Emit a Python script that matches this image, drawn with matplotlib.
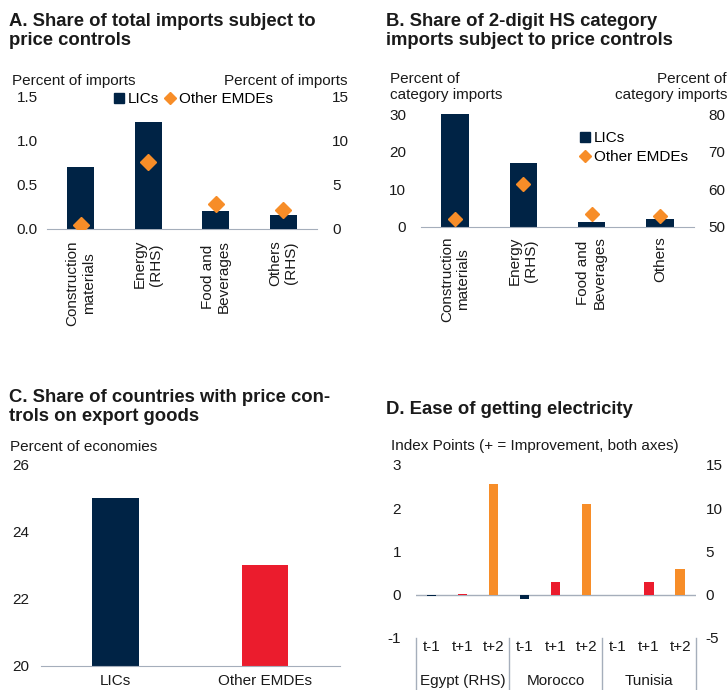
import matplotlib
matplotlib.use("Agg")
import matplotlib.pyplot as plt
from matplotlib.lines import Line2D

plt.rcParams['font.family'] = ['Liberation Sans', 'DejaVu Sans']
plt.rcParams['font.size'] = 11
plt.rcParams['axes.unicode_minus'] = False

NAVY = '#002345'
RED = '#EB1C2D'
ORANGE = '#F78D28'
LINE = '#A5AEBB'
TXT = '#1a1a1a'

# Panel A: share of total imports subject to price controls
a_categories = ['Construction\nmaterials', 'Energy\n(RHS)', 'Food and\nBeverages', 'Others\n(RHS)']
a_lics = [0.70, 12.2, 0.20, 1.6]
a_other = [0.04, 7.6, 0.28, 2.2]
a_on_rhs = [False, True, False, True]

# Panel B: share of 2-digit HS category imports subject to price controls
b_categories = ['Construction\nmaterials', 'Energy\n(RHS)', 'Food and\nBeverages', 'Others']
b_lics = [30.0, 17.0, 1.2, 2.0]
b_other = [52.0, 61.4, 53.4, 52.9]   # right axis

# Panel C: share of countries with price controls on export goods
c_groups = ['LICs', 'Other EMDEs']
c_values = [25.0, 23.0]

# Panel D: ease of getting electricity
d_countries = ['Egypt (RHS)', 'Morocco', 'Tunisia']
d_periods = ['t-1', 't+1', 't+2']
d_egypt = [-0.2, 0.1, 12.8]   # right axis
d_morocco = [-0.11, 0.29, 2.09]
d_tunisia = [0.0, 0.29, 0.6]

W, H = 728, 690
fig = plt.figure(figsize=(W / 100, H / 100), dpi=100)


def box(x0, x1, ytop, ybot):
    return [x0 / W, 1 - ybot / H, (x1 - x0) / W, (ybot - ytop) / H]


def ftext(x, y, s, **kw):
    kw.setdefault('color', TXT)
    kw.setdefault('va', 'center')
    return fig.text(x / W, 1 - y / H, s, **kw)


def clean(ax):
    for sp in ax.spines.values():
        sp.set_visible(False)
    ax.patch.set_visible(False)
    ax.tick_params(length=0, colors=TXT, labelsize=11)


# ---------- Panel A ----------
ax = fig.add_axes(box(47, 317, 97, 229))
ax2 = ax.twinx()
for a in (ax, ax2):
    clean(a)
ax.spines['bottom'].set_visible(True)
ax.spines['bottom'].set_color(LINE)
x = list(range(len(a_categories)))
for i in x:
    tgt = ax2 if a_on_rhs[i] else ax
    tgt.bar(i, a_lics[i], width=0.4, color=NAVY, zorder=2)
    tgt.plot(i, a_other[i], marker='D', ms=8.5, color=ORANGE, ls='none', zorder=3)
ax.set_xlim(-0.5, 3.5)
ax.set_ylim(0, 1.5)
ax2.set_ylim(0, 15)
ax.set_yticks([0, 0.5, 1.0, 1.5])
ax.set_yticklabels(['0.0', '0.5', '1.0', '1.5'])
ax2.set_yticks([0, 5, 10, 15])
ax.set_xticks(x)
ax.set_xticklabels(a_categories, rotation=90, multialignment='center')
ax.tick_params(axis='x', pad=8)
ax.tick_params(axis='y', pad=6.5)
ax2.tick_params(axis='y', pad=11)
ftext(9, 31, 'A. Share of total imports subject to\nprice controls', fontsize=13.3, fontweight='bold')
ftext(12, 81, 'Percent of imports')
ftext(348, 81, 'Percent of imports', ha='right')
hA = [Line2D([], [], marker='s', color=NAVY, ls='none', ms=7),
      Line2D([], [], marker='D', color=ORANGE, ls='none', ms=6)]
fig.legend(hA, ['LICs', 'Other EMDEs'], loc='center left', bbox_to_anchor=(114 / W, 1 - 99 / H),
           ncol=2, frameon=False, handlelength=0.7, handletextpad=0.2, columnspacing=0.4,
           borderpad=0, borderaxespad=0, fontsize=11)

# ---------- Panel B ----------
bx = fig.add_axes(box(420.7, 694, 114, 226.7))
bx2 = bx.twinx()
for a in (bx, bx2):
    clean(a)
bx.spines['bottom'].set_visible(True)
bx.spines['bottom'].set_color(LINE)
x = list(range(len(b_categories)))
bx.bar(x, b_lics, width=0.4, color=NAVY, zorder=2)
bx2.plot(x, b_other, marker='D', ms=7, color=ORANGE, ls='none', zorder=3)
bx.set_xlim(-0.5, 3.5)
bx.set_ylim(0, 30)
bx2.set_ylim(50, 80)
bx.set_yticks([0, 10, 20, 30])
bx2.set_yticks([50, 60, 70, 80])
bx.set_xticks(x)
bx.set_xticklabels(b_categories, rotation=90, multialignment='center')
bx.tick_params(axis='x', pad=7)
bx.tick_params(axis='y', pad=10.5)
bx2.tick_params(axis='y', pad=10.5)
ftext(386, 31, 'B. Share of 2-digit HS category\nimports subject to price controls', fontsize=13.3, fontweight='bold')
ftext(390, 87, 'Percent of\ncategory imports')
ftext(727, 87, 'Percent of\ncategory imports', ha='right', multialignment='right')
hB = [Line2D([], [], marker='s', color=NAVY, ls='none', ms=7),
      Line2D([], [], marker='D', color=ORANGE, ls='none', ms=6)]
fig.legend(hB, ['LICs', 'Other EMDEs'], loc='upper left', bbox_to_anchor=(580 / W, 1 - 131 / H),
           frameon=False, handlelength=0.7, handletextpad=0.2, labelspacing=0.35,
           borderpad=0, borderaxespad=0, fontsize=11)

# ---------- Panel C ----------
cx = fig.add_axes(box(40.7, 340, 464.3, 665.7))
clean(cx)
cx.spines['bottom'].set_visible(True)
cx.spines['bottom'].set_color(LINE)
cx.bar(range(len(c_groups)), c_values, width=0.31, color=[NAVY, RED], zorder=2)
cx.set_xlim(-0.5, 1.5)
cx.set_ylim(20, 26)
cx.set_yticks([20, 22, 24, 26])
cx.set_xticks(range(len(c_groups)))
cx.set_xticklabels(c_groups)
cx.tick_params(axis='x', pad=6)
cx.tick_params(axis='y', pad=8.5)
ftext(9, 407, 'C. Share of countries with price con-\ntrols on export goods', fontsize=13.3, fontweight='bold')
ftext(10, 447, 'Percent of economies')

# ---------- Panel D ----------
dx = fig.add_axes(box(415.7, 695.7, 465, 637.7))
dx2 = dx.twinx()
for a in (dx, dx2):
    clean(a)
colors = [NAVY, RED, ORANGE]
n = len(d_periods)
series = [d_egypt, d_morocco, d_tunisia]
for g, vals in enumerate(series):
    tgt = dx2 if g == 0 else dx
    pos = [g * n + k for k in range(n)]
    tgt.bar(pos, vals, width=0.3, color=colors, zorder=2)
dx.axhline(0, color=LINE, lw=1, zorder=1)
dx.set_xlim(-0.5, len(series) * n - 0.5)
dx.set_ylim(-1, 3)
dx2.set_ylim(-5, 15)
dx.set_yticks([-1, 0, 1, 2, 3])
dx2.set_yticks([-5, 0, 5, 10, 15])
dx.set_xticks([])
dx.tick_params(axis='y', pad=10.5)
dx2.tick_params(axis='y', pad=7)
tr = dx.get_xaxis_transform()
for g, name in enumerate(d_countries):
    for k, p in enumerate(d_periods):
        dx.text(g * n + k, -0.054, p, transform=tr, ha='center', va='center', color=TXT, fontsize=11)
    dx.text(g * n + 1, -0.25, name, transform=tr, ha='center', va='center', color=TXT, fontsize=11)
for b in range(len(series) + 1):
    xb = b * n - 0.5
    dx.plot([xb, xb], [0, -0.31], transform=tr, color=LINE, lw=1, clip_on=False)
ftext(386, 410, 'D. Ease of getting electricity', fontsize=13.3, fontweight='bold')
ftext(391, 446, 'Index Points (+ = Improvement, both axes)')

fig.savefig('out.png', dpi=100)
